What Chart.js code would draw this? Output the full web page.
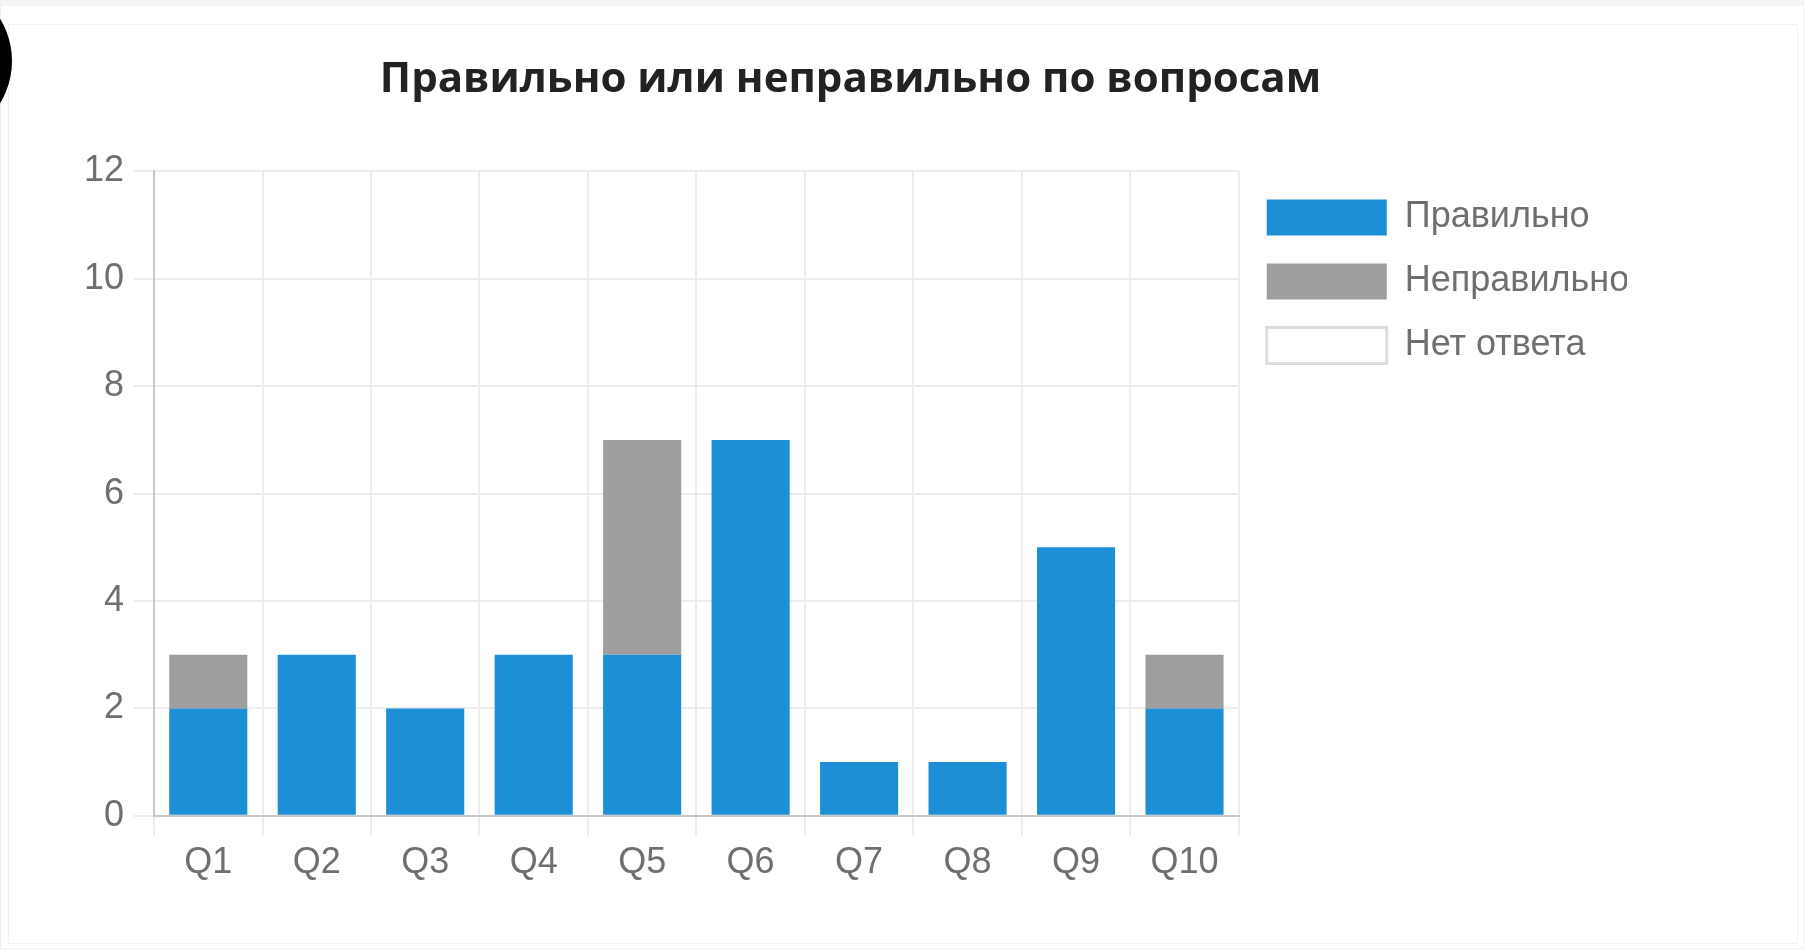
<!DOCTYPE html>
<html>
<head>
<meta charset="utf-8">
<script src="https://cdn.jsdelivr.net/npm/chart.js@4"></script>
<style>
  html, body { margin: 0; padding: 0; background: #fff; }
  body { width: 1806px; height: 951px; position: relative; overflow: hidden; }
  .frame { position: absolute; left: 0; top: 0; width: 1804px; height: 949px; border: 1px solid #f0f0f0; border-top: 6px solid #f4f4f4; box-sizing: border-box; }
  .card { position: absolute; left: 8px; top: 24px; width: 1790px; height: 920px; border: 1px solid #f2f2f2; box-sizing: border-box; }
  .dot { position: absolute; left: -150px; top: -20px; width: 162px; height: 162px; border-radius: 50%; background: #000; }
  .chart-box { position: absolute; left: 20px; top: 25px; width: 1614px; height: 900px; }
</style>
</head>
<body>
<div class="frame"></div>
<div class="card"></div>
<div class="dot"></div>
<div class="chart-box"><canvas id="quizChart"></canvas></div>
<script>
const chartTitle = "Правильно или неправильно по вопросам";
const questions = ["Q1", "Q2", "Q3", "Q4", "Q5", "Q6", "Q7", "Q8", "Q9", "Q10"];
const correctCounts = [2, 3, 2, 3, 3, 7, 1, 1, 5, 2];
const wrongCounts = [1, 0, 0, 0, 4, 0, 0, 0, 0, 1];
const noAnswerCounts = [0, 0, 0, 0, 0, 0, 0, 0, 0, 0];
const seriesNames = ["Правильно", "Неправильно", "Нет ответа"];

const tickFont = { family: "'Liberation Sans', Arial, sans-serif", size: 36 };

new Chart(document.getElementById("quizChart"), {
  type: "bar",
  data: {
    labels: questions,
    datasets: [
      {
        label: seriesNames[0],
        data: correctCounts,
        backgroundColor: "#1c8fd6"
      },
      {
        label: seriesNames[1],
        data: wrongCounts,
        backgroundColor: "#9e9e9e"
      },
      {
        label: seriesNames[2],
        data: noAnswerCounts,
        backgroundColor: "#ffffff",
        borderColor: "#dddddd",
        borderWidth: 3
      }
    ]
  },
  options: {
    responsive: true,
    maintainAspectRatio: false,
    animation: false,
    layout: {
      padding: { left: 54, right: 7, top: 0, bottom: 34 }
    },
    plugins: {
      title: {
        display: true,
        text: chartTitle,
        color: "#222",
        font: { family: "'Open Sans', sans-serif", size: 42, weight: "bold" },
        padding: { top: 30, bottom: 66 }
      },
      legend: {
        position: "right",
        align: "start",
        fullSize: false,
        labels: {
          color: "#6f6f6f",
          font: tickFont,
          boxWidth: 120,
          boxHeight: 36,
          padding: 28
        }
      },
      tooltip: { enabled: false }
    },
    scales: {
      x: {
        stacked: true,
        grid: { color: "#ececec", lineWidth: 2, tickLength: 20 },
        border: { color: "#c8c8c8", width: 2 },
        ticks: { color: "#6f6f6f", font: tickFont, padding: 6 }
      },
      y: {
        stacked: true,
        min: 0,
        max: 12,
        grid: { color: "#ececec", lineWidth: 2, tickLength: 20 },
        border: { color: "#c8c8c8", width: 2 },
        ticks: { color: "#6f6f6f", font: tickFont, stepSize: 2, padding: 10 }
      }
    }
  }
});
</script>
</body>
</html>
